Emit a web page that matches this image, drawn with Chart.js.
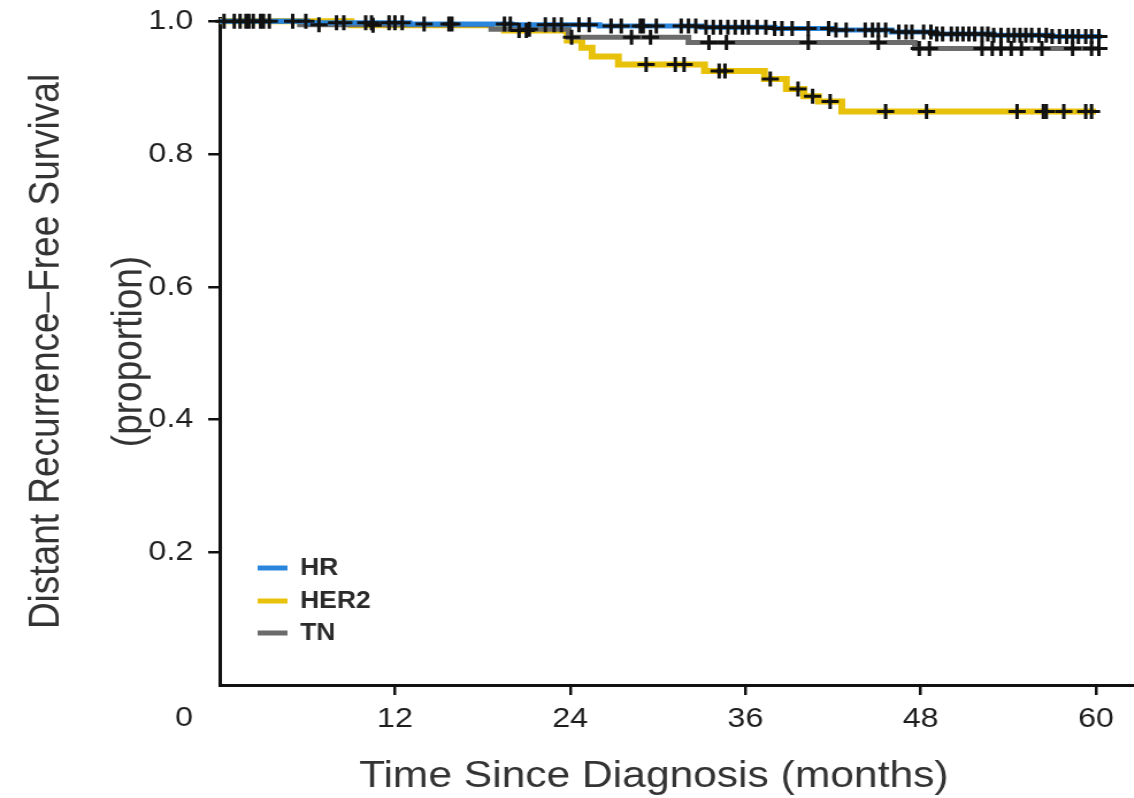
<!DOCTYPE html>
<html><head><meta charset="utf-8">
<script src="https://cdn.jsdelivr.net/npm/chart.js@4.4.1/dist/chart.umd.min.js"></script>
<style>
html,body{margin:0;padding:0;background:#fff;overflow:hidden;width:1134px;height:798px;}
#wrap{position:absolute;left:0;top:0;width:986px;height:798px;transform:scaleX(1.15);transform-origin:0 0;}
</style></head><body>
<div id="wrap"><canvas id="c" width="986" height="798"></canvas></div>
<script>
// ---- data (months, proportion) ----
const groupNames = ['HR', 'HER2', 'TN'];
const groupColors = ['#2a86dc', '#e8c20a', '#6b6b6b'];

const hrTime = [0, 6, 13, 20, 26, 33, 38, 42, 46, 49, 53, 57, 60.4];
const hrSurv = [1, 0.998, 0.996, 0.995, 0.993, 0.991, 0.989, 0.987, 0.984, 0.981, 0.979, 0.977, 0.977];
const hrCensor = [0.3, 1.4, 1.8, 2.3, 2.8, 3.4, 5.9, 8, 8.5, 10, 10.4, 11.6, 12.0, 12.5, 14, 15.7, 15.9,
  19.5, 19.9, 22.3, 22.9, 23.4, 24.6, 25.3, 26.8, 27.5, 28.8, 29.0, 29.9, 31.6, 32.1, 32.6, 33.3, 33.8,
  34.3, 34.8, 35.3, 35.8, 36.2, 36.8, 37.4, 38.0, 38.5, 39.2, 40.3, 41.7, 42.2, 42.9, 44.2, 44.7, 45.1,
  45.6, 46.5, 47, 47.4, 48.2, 48.7, 49.1, 49.5, 50.1, 50.5, 50.9, 51.3, 51.7, 52.2, 52.6, 53.0, 53.5,
  54.0, 54.4, 54.8, 55.2, 55.6, 56.1, 56.6, 57.0, 57.5, 58.0, 58.4, 58.8, 59.3, 59.7, 60.2];

const her2Time = [0, 9, 19.5, 23.8, 24.8, 25.5, 27.3, 33.2, 37.3, 38.8, 40.0, 41.0, 42.6, 60.0];
const her2Surv = [1, 0.994, 0.986, 0.971, 0.96, 0.947, 0.935, 0.925, 0.913, 0.898, 0.887, 0.879, 0.864, 0.864];
const her2Censor = [2.0, 5.0, 10.5, 20.5, 21.0, 29.2, 31.2, 31.8, 34.2, 34.6, 37.7, 39.6, 40.6, 41.8,
  45.6, 48.4, 54.6, 56.4, 56.6, 57.8, 59.3, 59.7];

const tnTime = [0, 5.5, 18.6, 23.9, 32.1, 47.6, 60.2];
const tnSurv = [1, 0.995, 0.988, 0.976, 0.968, 0.959, 0.959];
const tnCensor = [1.0, 3.0, 6.8, 21.2, 24.1, 28.2, 29.5, 33.5, 34.7, 40.3, 45.1, 47.9, 48.6, 52.2,
  52.9, 53.5, 54.2, 54.9, 56.3, 58.4, 59.7, 60.2];

const xTicks = [12, 24, 36, 48, 60];
const yTicks = [0.2, 0.4, 0.6, 0.8, 1.0];
const xTitle = 'Time Since Diagnosis (months)';
const yTitle = ['Distant Recurrence\u2013Free Survival', '(proportion)'];
const originLabel = '0';

// ---- build datasets ----
function survAt(times, surv, t) {
  let s = surv[0];
  for (let i = 0; i < times.length; i++) if (times[i] <= t) s = surv[i];
  return s;
}
function curve(times, surv) { return times.map((t, i) => ({x: t, y: surv[i]})); }
function marks(censor, times, surv) { return censor.map(t => ({x: t, y: survAt(times, surv, t)})); }

const curves = [[hrTime, hrSurv, hrCensor], [her2Time, her2Surv, her2Censor], [tnTime, tnSurv, tnCensor]];
const lineOrder = [1, 3, 2];
const lineWidths = [5, 6, 5];
const datasets = [];
curves.forEach((g, i) => {
  datasets.push({
    label: groupNames[i], data: curve(g[0], g[1]), showLine: true, stepped: 'before',
    borderColor: groupColors[i], backgroundColor: groupColors[i], borderWidth: lineWidths[i],
    pointRadius: 0, order: lineOrder[i], clip: false
  });
});
curves.forEach((g, i) => {
  datasets.push({
    label: groupNames[i] + ' censored', data: marks(g[2], g[0], g[1]), showLine: false,
    pointStyle: 'cross', pointRadius: 7.5, borderColor: '#111', borderWidth: 3,
    backgroundColor: '#111', order: 0, clip: false
  });
});

const extras = {
  id: 'extras',
  afterDraw(chart) {
    const ctx = chart.ctx, ca = chart.chartArea;
    ctx.save();
    ctx.fillStyle = '#1e1e1e';
    ctx.font = "28px 'Liberation Sans', Arial, sans-serif";
    ctx.textAlign = 'center'; ctx.textBaseline = 'middle';
    ctx.fillText(originLabel, ca.left - 31, 718);
    ctx.fillStyle = '#333';
    ctx.font = "37px 'Liberation Sans', Arial, sans-serif";
    ctx.fillText(xTitle, (ca.left + ca.right) / 2 - 20, 777);
    // legend
    ctx.font = "bold 23px 'Liberation Sans', Arial, sans-serif";
    ctx.textAlign = 'left';
    const ys = [568, 601, 633];
    groupNames.forEach((n, i) => {
      ctx.strokeStyle = groupColors[i]; ctx.lineWidth = 5; ctx.lineCap = 'butt';
      ctx.beginPath(); ctx.moveTo(224, ys[i]); ctx.lineTo(250, ys[i]); ctx.stroke();
      ctx.fillStyle = '#2a2a2a';
      ctx.fillText(n, 261, ys[i] + 1);
    });
    ctx.restore();
  }
};

Chart.defaults.font.family = "'Liberation Sans', Arial, sans-serif";
new Chart(document.getElementById('c'), {
  type: 'scatter',
  data: {datasets},
  options: {
    responsive: false, animation: false, devicePixelRatio: 1,
    layout: {autoPadding: false, padding: {top: 18, left: 0, right: 0, bottom: 0}},
    plugins: {legend: {display: false}, tooltip: {enabled: false}},
    scales: {
      x: {
        type: 'linear', min: 0, max: 62.6,
        afterBuildTicks: s => { s.ticks = xTicks.map(v => ({value: v})); },
        afterFit: s => { s.height = 113; s.paddingLeft = 0; s.paddingRight = 0; },
        grid: {drawOnChartArea: false, drawTicks: true, tickLength: 10, color: '#111', lineWidth: 2.5},
        border: {display: true, color: '#111', width: 3},
        ticks: {color: '#1e1e1e', font: {size: 28}, padding: 7, maxRotation: 0, autoSkip: false}
      },
      y: {
        type: 'linear', min: 0, max: 1.005,
        afterBuildTicks: s => { s.ticks = yTicks.map(v => ({value: v})); },
        afterFit: s => { s.width = 191; s.paddingTop = 0; s.paddingBottom = 0; },
        grid: {drawOnChartArea: false, drawTicks: true, tickLength: 10, color: '#111', lineWidth: 2.5},
        border: {display: true, color: '#111', width: 3},
        ticks: {color: '#1e1e1e', font: {size: 28}, padding: 13, callback: v => v.toFixed(1)},
        title: {display: true, text: yTitle, color: '#333', font: {size: 37, lineHeight: 1.95}, padding: {top: 5, bottom: 0}}
      }
    }
  },
  plugins: [extras]
});
</script>
</body></html>
